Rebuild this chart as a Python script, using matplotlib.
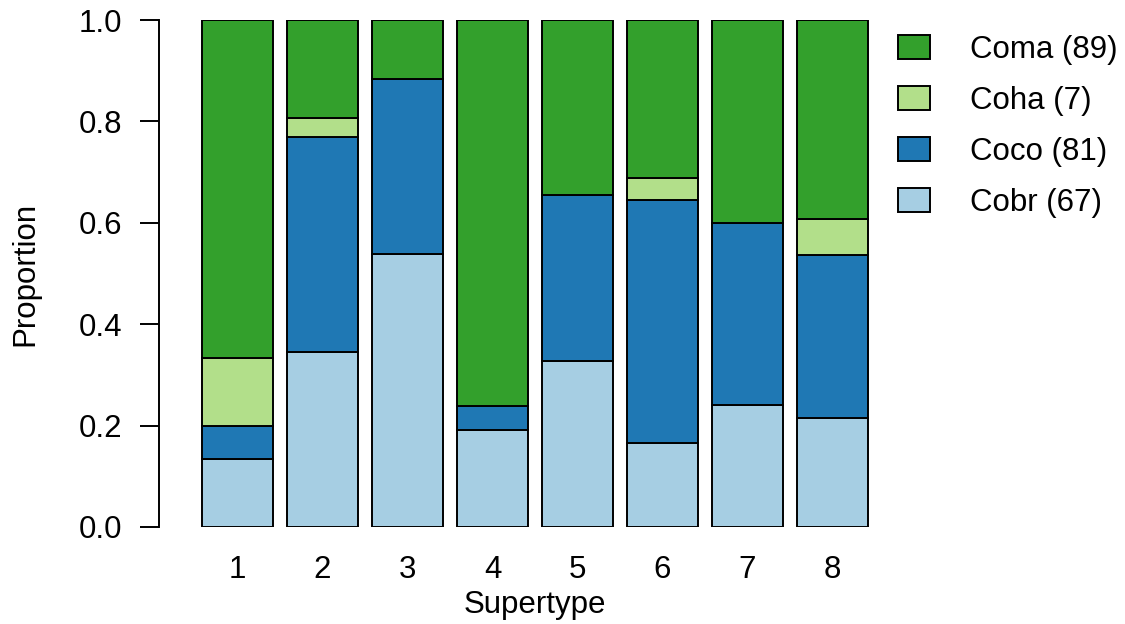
import matplotlib
matplotlib.use("Agg")
import matplotlib.pyplot as plt
import numpy as np

plt.rcParams['font.family'] = ['Liberation Sans', 'DejaVu Sans']

# Counts per supertype for each group (stacked bottom to top: Cobr, Coco, Coha, Coma)
supertypes = ["1", "2", "3", "4", "5", "6", "7", "8"]
cobr = [2, 9, 14, 4, 18, 8, 6, 6]
coco = [1, 11, 9, 1, 18, 23, 9, 9]
coha = [2, 1, 0, 0, 0, 2, 0, 2]
coma = [10, 5, 3, 16, 19, 15, 10, 11]

groups = [
    ("Cobr", cobr, "#A6CEE3"),
    ("Coco", coco, "#1F78B4"),
    ("Coha", coha, "#B2DF8A"),
    ("Coma", coma, "#33A02C"),
]

counts = np.array([g[1] for g in groups], dtype=float)
totals = counts.sum(axis=0)
props = counts / totals

dpi = 100
fig = plt.figure(figsize=(11.25, 6.24), dpi=dpi)
W, H = 1125, 624
ax = fig.add_axes([178 / W, (H - 527) / H, (892 - 178) / W, 507 / H])

x = np.arange(1, len(supertypes) + 1)
bottom = np.zeros(len(supertypes))
handles = {}
for (name, vals, color), p in zip(groups, props):
    bars = ax.bar(x, p, bottom=bottom, width=0.835, color=color,
                  edgecolor="black", linewidth=1.4)
    handles[name] = (bars, int(np.sum(vals)))
    bottom += p

ax.set_xlim(0.3, 8.7)
ax.set_ylim(0, 1)
ax.set_xticks(x)
ax.set_xticklabels(supertypes)
ax.set_yticks([0, 0.2, 0.4, 0.6, 0.8, 1.0])
ax.set_yticklabels(["0.0", "0.2", "0.4", "0.6", "0.8", "1.0"])

for s in ["top", "right", "bottom"]:
    ax.spines[s].set_visible(False)
ax.spines["left"].set_position(("outward", 13.7))
ax.spines["left"].set_bounds(0, 1)
ax.spines["left"].set_linewidth(1.4)

fs = 22.5
ax.tick_params(axis="y", length=13.7, width=1.4, pad=13, labelsize=fs)
ax.tick_params(axis="x", length=0, pad=20, labelsize=fs)
ax.set_xlabel("Supertype", fontsize=fs, labelpad=4)
ax.set_ylabel("Proportion", fontsize=fs, labelpad=27)

order = ["Coma", "Coha", "Coco", "Cobr"]
leg = ax.legend([handles[n][0] for n in order],
                [f"{n} ({handles[n][1]})" for n in order],
                loc="upper left", bbox_to_anchor=(898 / W, 1 - 35 / H),
                bbox_transform=fig.transFigure, frameon=False, fontsize=fs,
                handlelength=1.02, handleheight=0.8, handletextpad=1.28,
                labelspacing=0.675, borderaxespad=0, borderpad=0)

fig.savefig("out.png", dpi=dpi)
